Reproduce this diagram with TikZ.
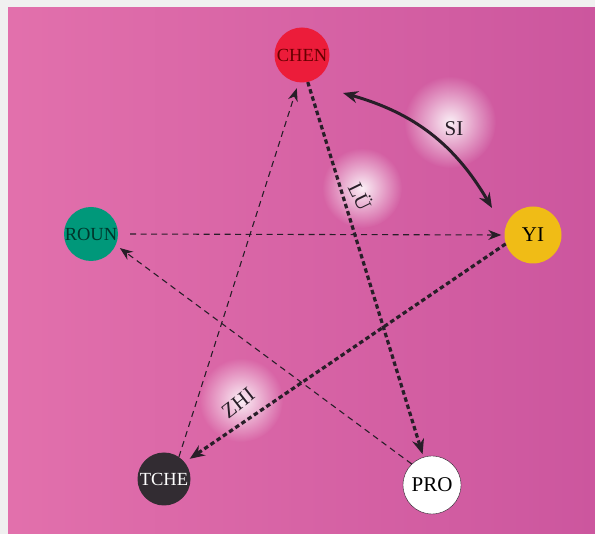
\documentclass[tikz,border=0pt]{standalone}
\usepackage{fontspec}
\setmainfont{Liberation Serif}
\usetikzlibrary{shapes,arrows.meta,fadings}

\definecolor{bgleft}{RGB}{226,112,172}
\definecolor{bgright}{RGB}{204,86,158}
\definecolor{chenred}{RGB}{236,28,58}
\definecolor{yiyellow}{RGB}{240,188,22}
\definecolor{rougreen}{RGB}{0,152,122}
\definecolor{tchegrey}{RGB}{50,44,50}
\definecolor{inkdark}{RGB}{40,30,40}
\tikzfading[name=glowfade, inner color=transparent!10, outer color=transparent!100]

\begin{document}
\begin{tikzpicture}[x=1pt, y=-1pt]
\tikzstyle{vertex}=[circle, inner sep=0pt, font=\fontsize{18.5}{18.5}\selectfont]
\tikzstyle{thinstyle}=[inkdark, line width=1.1pt, dash pattern=on 6pt off 4.5pt, -{Stealth[length=13pt,width=10pt]}]
\tikzstyle{thickstyle}=[inkdark, line width=3.2pt, dash pattern=on 4.5pt off 3pt, -{Stealth[length=15pt,width=12pt]}]
\tikzstyle{solidstyle}=[inkdark, line width=3pt, {Stealth[length=15pt,width=12pt]}-{Stealth[length=15pt,width=12pt]}]
\tikzstyle{labelstyle}=[inkdark, font=\fontsize{21}{21}\selectfont]

% frame and background
\useasboundingbox (0,0) rectangle (595,534);
\fill[black!6] (0,0) rectangle (595,534);
\shade[left color=bgleft, right color=bgright] (8,8) rectangle (595,534);

% glows
\fill[white, path fading=glowfade] (450,122) circle (46);
\fill[white, path fading=glowfade] (362,188) circle (40);
\fill[white, path fading=glowfade] (241,400) circle (42);

% phases
\node[vertex, fill=chenred, minimum size=55pt, text=red!40!black] (CHEN) at (302,55) {CHEN};
\node[vertex, fill=yiyellow, minimum size=57pt, text=black, font=\fontsize{21}{21}\selectfont] (YI) at (533,235) {YI};
\node[vertex, fill=white, draw=inkdark, thin, minimum size=58pt, text=black, font=\fontsize{21}{21}\selectfont] (PRO) at (432,485) {PRO};
\node[vertex, fill=tchegrey, minimum size=53pt, text=white] (TCHE) at (164,479) {TCHE};
\node[vertex, fill=rougreen, minimum size=54pt, text=rougreen!35!black] (ROUN) at (91,234) {ROUN};

\coordinate (SIa) at (343,93);
\coordinate (SIb) at (492,208);

% connectors
\draw[thinstyle, shorten <=12pt, shorten >=3pt] (ROUN.east) -- (YI.west);
\draw[thinstyle, shorten >=5pt] (PRO.134) -- (ROUN.336);
\draw[thinstyle, shorten >=6pt] (TCHE.56) -- (CHEN.263);
\draw[thickstyle, shorten >=3pt] (CHEN.282) -- (PRO.107);
\draw[thickstyle, shorten >=6pt] (YI.198) -- (TCHE.39);
\draw[solidstyle] (SIa) to[bend left=22] (SIb);

% labels
\node[labelstyle] (SI) at (454,129) {SI};
\node[labelstyle, rotate=-64] (LU) at (361,196) {LÜ};
\node[labelstyle, rotate=38] (ZHI) at (238,403) {ZHI};
\end{tikzpicture}
\end{document}
